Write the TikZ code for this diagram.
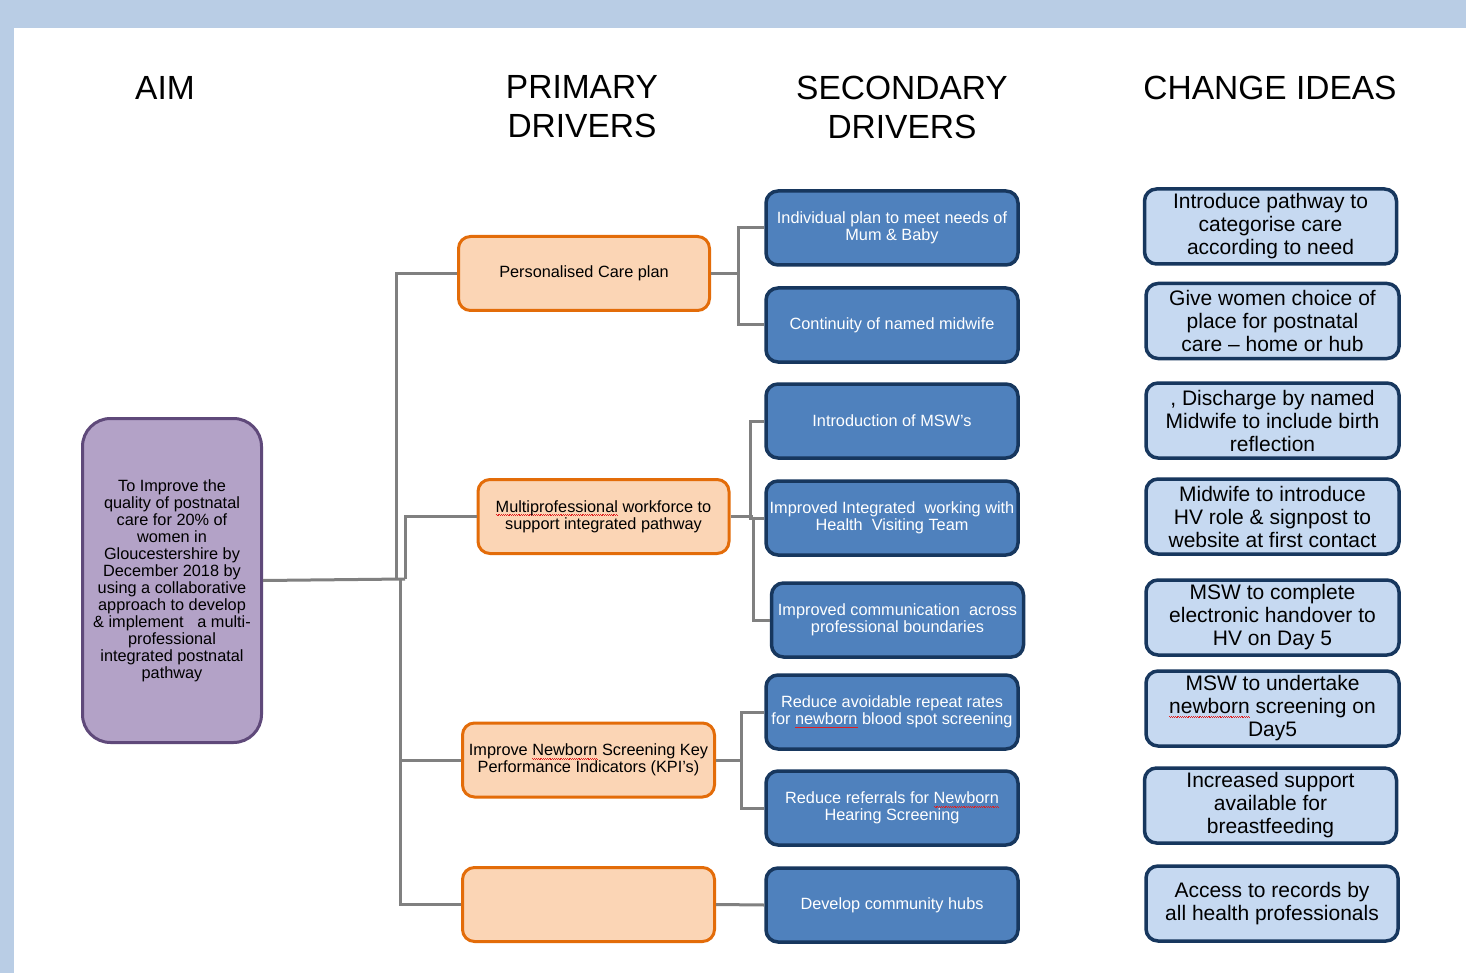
\documentclass[tikz,border=0pt]{standalone}
\usepackage{fontspec}
\setmainfont{Liberation Sans}
\definecolor{band}{HTML}{B9CDE5}
\definecolor{aimfill}{HTML}{B3A2C7}
\definecolor{aimline}{HTML}{5F497A}
\definecolor{prifill}{HTML}{FBD5B5}
\definecolor{priline}{HTML}{E36C09}
\definecolor{secfill}{HTML}{4F81BD}
\definecolor{navy}{HTML}{17375E}
\definecolor{chgfill}{HTML}{C6D9F1}
\definecolor{conn}{HTML}{808080}
\definecolor{spellred}{HTML}{E02020}
\newbox\spbox
\newcommand\spellerr[1]{\setbox\spbox=\hbox{#1}%
  \rlap{\color{spellred}\hbox to\wd\spbox{\xleaders\hbox{%
    \vrule width 0.9pt height -2.2pt depth 3.0pt%
    \vrule width 0.9pt height -2.9pt depth 3.7pt}\hfil}}\box\spbox}
\tikzset{
  hdr/.style={align=center, font=\fontsize{33.5}{39}\selectfont},
  aimbox/.style={draw=aimline, fill=aimfill, line width=3pt, rounded corners=28pt,
    minimum width=179pt, minimum height=324pt, align=center, inner sep=0pt,
    font=\fontsize{16.3}{17}\selectfont},
  pribox/.style={draw=priline, fill=prifill, line width=3pt, rounded corners=12pt,
    minimum width=251pt, minimum height=74pt, align=center, inner sep=0pt,
    font=\fontsize{16.3}{17}\selectfont},
  secbox/.style={draw=navy, fill=secfill, line width=3.5pt, rounded corners=12pt,
    minimum width=252pt, minimum height=74pt, align=center, inner sep=0pt, text=white,
    font=\fontsize{16.3}{17}\selectfont},
  chgbox/.style={draw=navy, fill=chgfill, line width=3.5pt, rounded corners=12pt,
    minimum width=252pt, minimum height=75pt, align=center, inner sep=0pt,
    font=\fontsize{21}{23}\selectfont},
  link/.style={draw=conn, line width=3pt}
}
\begin{document}
\begin{tikzpicture}[x=1pt,y=-1pt]
\useasboundingbox (0,0) rectangle (1466,973);
\fill[white] (0,0) rectangle (1466,973);
\fill[band] (0,0) rectangle (1466,28);
\fill[band] (0,0) rectangle (14,973);

% headers
\node[hdr] (hAim) at (165,88) {AIM};
\node[hdr] (hPri) at (582,107) {PRIMARY\\DRIVERS};
\node[hdr] (hSec) at (902,107) {SECONDARY\\DRIVERS};
\node[hdr] (hChg) at (1270,88) {CHANGE IDEAS};

% aim
\node[aimbox] (aim) at (172,580.5) {To Improve the\\quality of postnatal\\care for 20\% of\\women in\\Gloucestershire by\\December 2018 by\\using a collaborative\\approach to develop\\\& implement \ \ a multi-\\professional\\integrated postnatal\\pathway};

% primary drivers
\node[pribox] (p1) at (584,273.5) {Personalised Care plan};
\node[pribox] (p2) at (603.5,516.5) {\spellerr{Multiprofessional} workforce to\\support integrated pathway};
\node[pribox, minimum width=252pt] (p3) at (588.5,760) {Improve \spellerr{Newborn} Screening Key\\Performance Indicators (KPI's)};
\node[pribox, minimum width=252pt] (p4) at (588.5,904.5) {};

% secondary drivers
\node[secbox] (s1) at (892,228) {Individual plan to meet needs of\\Mum \& Baby};
\node[secbox] (s2) at (892,325) {Continuity of named midwife};
\node[secbox] (s3) at (892,421) {Introduction of MSW's};
\node[secbox] (s4) at (892,518) {Improved Integrated \ working with\\Health \ Visiting Team};
\node[secbox] (s5) at (897.5,620) {Improved communication \ across\\professional boundaries};
\node[secbox] (s6) at (892,712) {Reduce avoidable repeat rates\\for \spellerr{newborn} blood spot screening};
\node[secbox] (s7) at (892,808) {Reduce referrals for \spellerr{Newborn}\\Hearing Screening};
\node[secbox] (s8) at (892,905) {Develop community hubs};

% change ideas
\node[chgbox] (c1) at (1270.5,226.5) {Introduce pathway to\\categorise care\\according to need};
\node[chgbox, minimum width=253pt] (c2) at (1272.5,321) {Give women choice of\\place for postnatal\\care -- home or hub};
\node[chgbox, minimum width=253pt] (c3) at (1272.5,420.5) {, Discharge by named\\Midwife to include birth\\reflection};
\node[chgbox, minimum width=253pt] (c4) at (1272.5,516.5) {Midwife to introduce\\HV role \& signpost to\\website at first contact};
\node[chgbox, minimum width=253pt] (c5) at (1272.5,617.5) {MSW to complete\\electronic handover to\\HV on Day 5};
\node[chgbox, minimum width=253pt] (c6) at (1272.5,708.5) {MSW to undertake\\\spellerr{newborn} screening on\\Day5};
\node[chgbox] (c7) at (1270.5,805.5) {Increased support\\available for\\breastfeeding};
\node[chgbox] (c8) at (1272,903.5) {Access to records by\\all health professionals};

% connectors aim -> primary
\coordinate (t1) at (396,579);
\coordinate (t2) at (405,579);
\coordinate (t3) at (400,579);
\draw[link] (aim.east) -- (t2);
\draw[link] (t1) |- (p1.west);
\draw[link] (t2) |- (p2.west);
\draw[link] (t3) |- (p3.west);
\draw[link] (t3) |- (p4.west);

% primary -> secondary
\coordinate (b1) at (738,273.5);
\draw[link] (p1.east) -- (b1);
\draw[link] (b1) |- (s1.west);
\draw[link] (b1) |- (s2.west);
\coordinate (b2) at (750,516.5);
\coordinate (b2b) at (753,516.5);
\draw[link] (p2.east) -- (b2b);
\draw[link] (b2) |- (s3.west);
\draw[link] (b2) |- (s4.west);
\draw[link] (b2b) |- (s5.west);
\coordinate (b3) at (741,760);
\draw[link] (p3.east) -- (b3);
\draw[link] (b3) |- (s6.west);
\draw[link] (b3) |- (s7.west);
\draw[link] (p4.east) -- (s8.west);
\end{tikzpicture}
\end{document}
